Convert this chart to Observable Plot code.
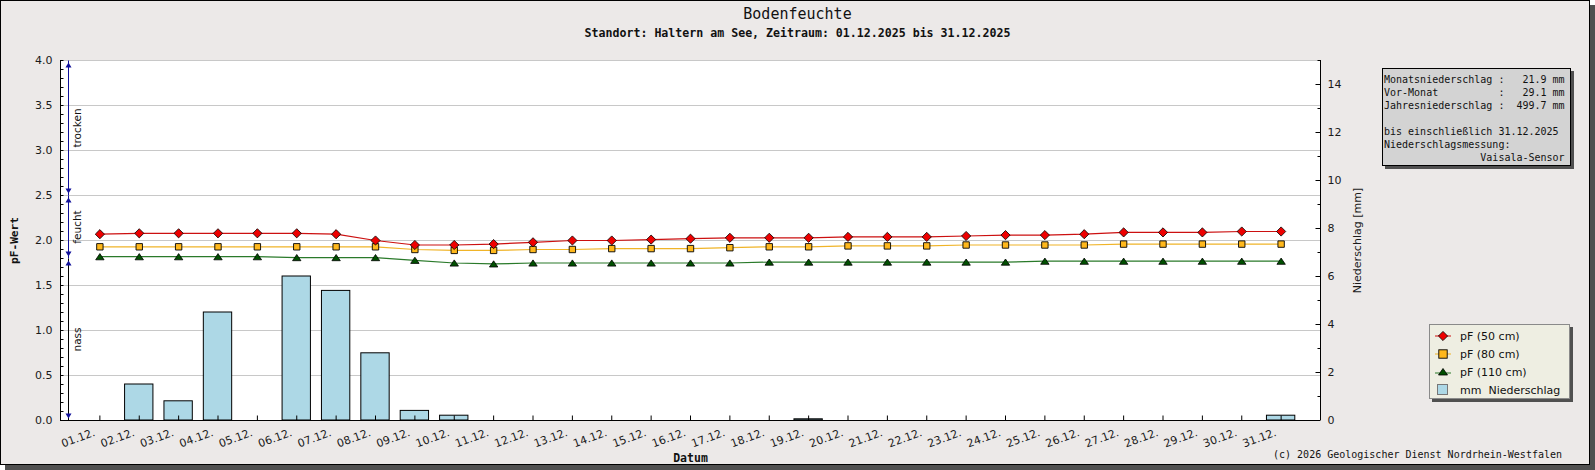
<!DOCTYPE html>
<html><head><meta charset="utf-8">
<script src="https://cdn.jsdelivr.net/npm/d3@7"></script>
<script src="https://cdn.jsdelivr.net/npm/@observablehq/plot@0.6"></script>
<style>
html,body{margin:0;padding:0;background:#fff;}
#wrap{position:relative;width:1595px;height:470px;overflow:hidden;}
#shadow{position:absolute;left:5px;top:5px;width:1590px;height:465px;background:#505050;}
#frame{position:absolute;left:0;top:0;width:1590px;height:465px;box-sizing:border-box;border:1px solid #000;background:#ECE9E8;}
#chart{position:absolute;left:0;top:0;}
.mono{font-family:"DejaVu Sans Mono",monospace;color:#111;}
#title{position:absolute;left:0;top:4px;width:1595px;text-align:center;font-size:15px;line-height:20px;}
#subtitle{position:absolute;left:0;top:26px;width:1595px;text-align:center;font-size:11.6px;font-weight:bold;line-height:15px;}
#info{position:absolute;left:1382px;top:68px;width:189px;height:98px;box-sizing:border-box;border:1px solid #000;background:#D3D3D3;box-shadow:3px 3px 0 #505050;font-size:10px;line-height:13px;padding:4px 0 0 1px;white-space:pre;}
#legend{position:absolute;left:1429px;top:324px;width:141px;height:75px;box-sizing:border-box;border:1px solid #8a8a8a;background:#EEEEE2;box-shadow:3px 3px 0 #505050;padding-top:2px;font-family:"DejaVu Sans",sans-serif;font-size:11px;color:#111;}
.row{height:18px;display:flex;align-items:center;white-space:pre;}
.row svg{margin-left:4px;margin-right:8px;}
#copy{position:absolute;left:0;top:448px;width:1562px;text-align:right;font-size:10px;line-height:14px;}
</style>
</head><body>
<div id="wrap">
  <div id="shadow"></div>
  <div id="frame"></div>
  <div id="chart"></div>
  <div id="title" class="mono"></div>
  <div id="subtitle" class="mono"></div>
  <div id="info" class="mono"></div>
  <div id="legend"></div>
  <div id="copy" class="mono"></div>
</div>
<script>
// ---------- data ----------
const days = [1,2,3,4,5,6,7,8,9,10,11,12,13,14,15,16,17,18,19,20,21,22,23,24,25,26,27,28,29,30,31];
const dayLabels = ["01.12.","02.12.","03.12.","04.12.","05.12.","06.12.","07.12.","08.12.","09.12.","10.12.","11.12.","12.12.","13.12.","14.12.","15.12.","16.12.","17.12.","18.12.","19.12.","20.12.","21.12.","22.12.","23.12.","24.12.","25.12.","26.12.","27.12.","28.12.","29.12.","30.12.","31.12."];
const pf50  = [2.07,2.08,2.08,2.08,2.08,2.08,2.07,2.00,1.95,1.95,1.96,1.98,2.00,2.00,2.01,2.02,2.03,2.03,2.03,2.04,2.04,2.04,2.05,2.06,2.06,2.07,2.09,2.09,2.09,2.10,2.10];
const pf80  = [1.93,1.93,1.93,1.93,1.93,1.93,1.93,1.93,1.90,1.89,1.89,1.90,1.90,1.91,1.91,1.91,1.92,1.93,1.93,1.94,1.94,1.94,1.95,1.95,1.95,1.95,1.96,1.96,1.96,1.96,1.96];
const pf110 = [1.82,1.82,1.82,1.82,1.82,1.81,1.81,1.81,1.78,1.75,1.74,1.75,1.75,1.75,1.75,1.75,1.75,1.76,1.76,1.76,1.76,1.76,1.76,1.76,1.77,1.77,1.77,1.77,1.77,1.77,1.77];
const precip = [0,1.5,0.8,4.5,0,6.0,5.4,2.8,0.4,0.2,0,0,0,0,0,0,0,0,0.05,0,0,0,0,0,0,0,0,0,0,0,0.2];
const pfTicks = [0,0.5,1.0,1.5,2.0,2.5,3.0,3.5,4.0];
const pfMinorTicks = d3.range(0, 41).map(i => i / 10);
const mmTicks = [0,2,4,6,8,10,12,14];
const mmMinorTicks = [1,3,5,7,9,11,13,15];
const mmMax = 15, pfMax = 4;
const zones = [
  {label: "trocken", lo: 2.5, hi: 4.0},
  {label: "feucht",  lo: 1.8, hi: 2.5},
  {label: "nass",    lo: 0.0, hi: 1.8}
];
const titleText = "Bodenfeuchte";
const subtitleText = "Standort: Haltern am See, Zeitraum: 01.12.2025 bis 31.12.2025";
const infoLines = [
  "Monatsniederschlag :   21.9 mm",
  "Vor-Monat          :   29.1 mm",
  "Jahresniederschlag :  499.7 mm",
  "",
  "bis einschließlich 31.12.2025",
  "Niederschlagsmessung:",
  "                Vaisala-Sensor"
];
const copyText = "(c) 2026 Geologischer Dienst Nordrhein-Westfalen";
const seriesNames = ["pF (50 cm)", "pF (80 cm)", "pF (110 cm)", "mm  Niederschlag"];

// ---------- build ----------
const k = pfMax / mmMax;
const xMin = 0, xMax = 32;
const rows = days.map((d, i) => ({day: d, label: dayLabels[i], pf50: pf50[i], pf80: pf80[i], pf110: pf110[i], mm: precip[i]}));
const bars = rows.filter(r => r.mm > 0);

const symDiamond = {draw(c) { const r = 4.6; c.moveTo(0, -r); c.lineTo(r, 0); c.lineTo(0, r); c.lineTo(-r, 0); c.closePath(); }};
const symSquare = {draw(c) { const h = 3.2; c.rect(-h, -h, 2 * h, 2 * h); }};
const symTriangle = {draw(c) { const w = 4.2, h = 3.1; c.moveTo(0, -h); c.lineTo(w, h); c.lineTo(-w, h); c.closePath(); }};
const arrowUp = {draw(c) { c.moveTo(0, 0); c.lineTo(3, 5); c.lineTo(-3, 5); c.closePath(); }};
const arrowDown = {draw(c) { c.moveTo(0, 0); c.lineTo(3, -5); c.lineTo(-3, -5); c.closePath(); }};
const tickSym = (dx, dy) => ({draw(c) { c.moveTo(0, 0); c.lineTo(dx, dy); }});

const colors = {
  l50: "#cc1010", f50: "#ee0000",
  l80: "#f0b428", f80: "#ffb81c",
  l110: "#2a7a2a", f110: "#005000",
  bar: "#ADD8E6", zone: "#10109a"
};

const chart = Plot.plot({
  width: 1595, height: 470,
  marginLeft: 60, marginRight: 275, marginTop: 60, marginBottom: 50,
  x: {domain: [xMin, xMax], axis: null},
  y: {domain: [0, pfMax], axis: null},
  color: {type: "identity"},
  style: {background: "transparent", fontFamily: "DejaVu Sans, sans-serif", fontSize: "11px", color: "#1a1a1a", overflow: "visible"},
  marks: [
    Plot.frame({fill: "white", stroke: null}),
    Plot.gridY(pfTicks.filter(t => t > 0), {stroke: "#c8c8c8", strokeOpacity: 1}),
    Plot.rectY(bars, {x1: d => d.day - 0.36, x2: d => d.day + 0.36, y: d => d.mm * k, fill: colors.bar, stroke: "#000", strokeWidth: 1}),
    // axis lines
    Plot.ruleX([xMin, xMax], {stroke: "#000"}),
    Plot.ruleY([0], {stroke: "#000"}),
    // left axis (ticks point inward)
    Plot.dot(pfMinorTicks, {x: () => xMin, y: d => d, symbol: tickSym(3, 0), r: 2, fill: "none", stroke: "#000", strokeWidth: 1}),
    Plot.axisY(pfTicks, {anchor: "left", tickSize: 0, tickPadding: 8, tickFormat: d3.format(".1f"), fontSize: 11, label: null}),
    // right axis
    Plot.dot(mmTicks, {x: () => xMax, y: d => d * k, symbol: tickSym(-5, 0), r: 2, fill: "none", stroke: "#000", strokeWidth: 1}),
    Plot.dot(mmMinorTicks, {x: () => xMax, y: d => d * k, symbol: tickSym(-3, 0), r: 2, fill: "none", stroke: "#000", strokeWidth: 1}),
    Plot.axisY(mmTicks.map(v => v * k), {anchor: "right", tickSize: 0, tickPadding: 7, tickFormat: v => String(Math.round(v / k)), fontSize: 11, label: null}),
    // x axis
    Plot.dot(days, {x: d => d, y: () => 0, symbol: tickSym(0, -5), r: 2, fill: "none", stroke: "#000", strokeWidth: 1}),
    Plot.text(rows, {x: "day", text: "label", frameAnchor: "bottom", rotate: -20, textAnchor: "end", dx: -4, dy: 15, fontSize: 11, fill: "#1a1a1a"}),
    // axis titles
    Plot.text(["Datum"], {frameAnchor: "bottom", textAnchor: "middle", dy: 41, fontFamily: "DejaVu Sans Mono", fontWeight: "bold", fontSize: 11.5, fill: "#111"}),
    Plot.text(["pF-Wert"], {frameAnchor: "left", textAnchor: "middle", dx: -46, rotate: -90, fontFamily: "DejaVu Sans Mono", fontWeight: "bold", fontSize: 11.2, fill: "#111"}),
    Plot.text(["Niederschlag [mm]"], {frameAnchor: "right", textAnchor: "middle", dx: 37, rotate: -90, fontSize: 11, fill: "#1a1a1a"}),
    // moisture zones
    Plot.link(zones.filter(z => z.label !== "nass"), {x1: () => xMin, x2: () => xMin, y1: d => d.lo, y2: d => d.hi, dx: 8, stroke: colors.zone, strokeWidth: 1}),
    Plot.link(zones.filter(z => z.label === "nass"), {x1: () => xMin, x2: () => xMin, y1: d => d.lo, y2: d => d.hi, dx: 8, stroke: "#000", strokeWidth: 1}),
    Plot.dot(zones, {x: () => xMin, dx: 8, y: d => d.hi, dy: 2, symbol: arrowUp, r: 3, fill: colors.zone, stroke: "none"}),
    Plot.dot(zones, {x: () => xMin, dx: 8, y: d => d.lo, dy: -2, symbol: arrowDown, r: 3, fill: colors.zone, stroke: "none"}),
    Plot.text(zones, {frameAnchor: "left", textAnchor: "middle", dx: 17, y: d => (d.lo + d.hi) / 2, text: "label", rotate: -90, fontSize: 10.5, fill: "#111"}),
    // series
    Plot.line(rows, {x: "day", y: "pf110", stroke: colors.l110, strokeWidth: 1.2}),
    Plot.line(rows, {x: "day", y: "pf80", stroke: colors.l80, strokeWidth: 1.2}),
    Plot.line(rows, {x: "day", y: "pf50", stroke: colors.l50, strokeWidth: 1.2}),
    Plot.dot(rows, {x: "day", y: "pf110", symbol: symTriangle, r: 4, fill: colors.f110, stroke: "#000", strokeWidth: 0.8}),
    Plot.dot(rows, {x: "day", y: "pf80", symbol: symSquare, r: 4, fill: colors.f80, stroke: "#000", strokeWidth: 0.9}),
    Plot.dot(rows, {x: "day", y: "pf50", symbol: symDiamond, r: 4, fill: colors.f50, stroke: "#000", strokeWidth: 0.8})
  ]
});
document.getElementById("chart").appendChild(chart);

document.getElementById("title").textContent = titleText;
document.getElementById("subtitle").textContent = subtitleText;
document.getElementById("info").textContent = infoLines.join("\n");
document.getElementById("copy").textContent = copyText;

const sw = [
  `<svg width="18" height="12"><line x1="1" y1="6" x2="17" y2="6" stroke="${colors.l50}"/><path d="M9,1.4L13.6,6L9,10.6L4.4,6Z" fill="${colors.f50}" stroke="#000" stroke-width="0.8"/></svg>`,
  `<svg width="18" height="12"><line x1="1" y1="6" x2="17" y2="6" stroke="${colors.l80}"/><rect x="4.8" y="1.8" width="8.4" height="8.4" fill="${colors.f80}" stroke="#000" stroke-width="0.9"/></svg>`,
  `<svg width="18" height="12"><line x1="1" y1="7" x2="17" y2="7" stroke="${colors.l110}"/><path d="M9,2.5L13.5,9L4.5,9Z" fill="${colors.f110}" stroke="#000" stroke-width="0.8"/></svg>`,
  `<svg width="18" height="12"><rect x="3.5" y="0.5" width="10" height="10" fill="${colors.bar}" stroke="#777"/></svg>`
];
document.getElementById("legend").innerHTML = seriesNames.map((n, i) => `<div class="row">${sw[i]}<span>${n}</span></div>`).join("");
</script>
</body></html>
